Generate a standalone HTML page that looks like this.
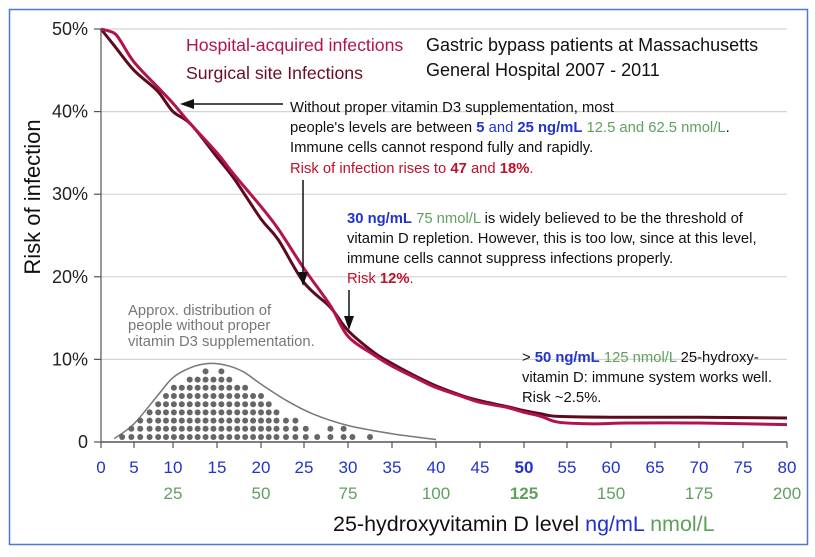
<!DOCTYPE html>
<html><head><meta charset="utf-8">
<style>
html,body{margin:0;padding:0;background:#fff;}
svg{display:block;font-family:"Liberation Sans",sans-serif;}
</style></head>
<body>
<svg id="chart" width="815" height="557" viewBox="0 0 815 557" xmlns="http://www.w3.org/2000/svg">
<rect x="9.5" y="9.5" width="798" height="535" fill="#fff" stroke="#4a78d8" stroke-width="1.5"/>
<g id="grid"></g>
<g id="dist"></g>
<g id="lines"></g>
<g id="axes"></g>
<g font-size="17.7">
 <text x="186" y="51" fill="#b3124f">Hospital-acquired infections</text>
 <text x="186" y="79" fill="#6a0e22">Surgical site Infections</text>
</g>
<g font-size="18" fill="#111">
 <text x="426" y="51">Gastric bypass patients at Massachusetts</text>
 <text x="426" y="76">General Hospital 2007 - 2011</text>
</g>
<g font-size="14.8" fill="#111">
 <text x="290" y="112">Without proper vitamin D3 supplementation, most</text>
 <text x="290" y="132">people's levels are between <tspan fill="#2233cc" font-weight="bold">5</tspan><tspan fill="#2233cc"> and </tspan><tspan fill="#2233cc" font-weight="bold">25 ng/mL</tspan> <tspan fill="#5fa05f">12.5 and 62.5 nmol/L</tspan>.</text>
 <text x="290" y="152">Immune cells cannot respond fully and rapidly.</text>
 <text x="290" y="173" fill="#c0102a">Risk of infection rises to <tspan font-weight="bold">47</tspan> and <tspan font-weight="bold">18%</tspan>.</text>
</g>
<g font-size="14.8" fill="#111">
 <text x="347" y="223"><tspan fill="#2233cc" font-weight="bold">30 ng/mL</tspan> <tspan fill="#5fa05f">75 nmol/L</tspan> is widely believed to be the threshold of</text>
 <text x="347" y="243">vitamin D repletion.  However, this is too low, since at this level,</text>
 <text x="347" y="263">immune cells cannot suppress infections properly.</text>
 <text x="347" y="283" fill="#c0102a">Risk <tspan font-weight="bold">12%</tspan>.</text>
</g>
<g font-size="14.8" fill="#111">
 <text x="522" y="362">&gt; <tspan fill="#2233cc" font-weight="bold">50 ng/mL</tspan> <tspan fill="#5fa05f">125 nmol/L</tspan> 25-hydroxy-</text>
 <text x="522" y="382">vitamin D: immune system works well.</text>
 <text x="522" y="402">Risk ~2.5%.</text>
</g>
<g font-size="14.8" fill="#777">
 <text x="128" y="315">Approx. distribution of</text>
 <text x="128" y="330">people without proper</text>
 <text x="128" y="346">vitamin D3 supplementation.</text>
</g>
<g stroke="#111" stroke-width="1.5" fill="#111">
 <line x1="283" y1="104" x2="192" y2="104"/><polygon points="180,104 194,99 194,109" stroke="none"/>
 <line x1="303" y1="180" x2="303" y2="274"/><polygon points="303,286 298,272 308,272" stroke="none"/>
 <line x1="349" y1="290" x2="349" y2="318"/><polygon points="349,330 344,316 354,316" stroke="none"/>
</g>
<text transform="translate(40,197) rotate(-90)" text-anchor="middle" font-size="22" fill="#111">Risk of infection</text>
<text x="333" y="531" font-size="21.5" fill="#111">25-hydroxyvitamin D level <tspan fill="#2233cc">ng/mL</tspan> <tspan fill="#5fa05f">nmol/L</tspan></text>
</svg>
<script>
const xTicks=[0,5,10,15,20,25,30,35,40,45,50,55,60,65,70,75,80];
const xTickPx=[101,134,173,217,261,304,348,392,436,480,524,567,611,655,699,743,787];
const nmolTicks=["25","50","75","100","125","150","175","200"];
const nmolAt=[10,20,30,40,50,60,70,80];
const yTicks=[0,10,20,30,40,50];
const yTickLabels=["0","10%","20%","30%","40%","50%"];
const hospX=[0,2,3,5,8,10,12,15,17,20,22,25,28,30,33,35,38,40,43,45,48,50,52,54,58,62,70,80];
const hospY=[50,49.5,48.5,46,43,41,38.5,35,32.3,28.5,25.8,21,16.5,12.8,10.5,9.2,7.6,6.6,5.5,4.8,4.2,3.6,3.1,2.4,2.2,2.3,2.3,2.1];
const surgX=[0,2,5,8,10,12,15,17,20,22,25,28,30,33,35,38,40,43,45,48,50,52,54,60,70,80];
const surgY=[50,48,45,42.5,40,38.5,34.5,31.8,27,24.5,19.3,16.3,13.5,10.8,9.5,7.8,6.8,5.6,5,4.3,3.8,3.4,3.1,3,3,2.9];
const distX=[2,5,8,10,12,14,16,18,20,23,26,30,35,40];
const distY=[0.4,2.2,5.6,7.8,9,9.5,9.3,8.5,7,5,3.4,2,1,0.3];
const dotX=[3.2,4.6,5.8,7.0,8.1,9.1,10.1,11.0,11.9,12.8,13.7,14.6,15.5,16.4,17.3,18.2,19.1,20.0,20.9,21.8,22.9,24.0,25.2,26.5,28,29.5,30.5,32.5];
const dotCount=[1,2,3,4,5,6,7,7,8,8,9,8,9,8,7,7,6,6,5,4,3,3,2,1,2,2,1,1];
const NS="http://www.w3.org/2000/svg";
function X(v){for(let i=0;i<xTicks.length-1;i++){if(v<=xTicks[i+1]){const t=(v-xTicks[i])/(xTicks[i+1]-xTicks[i]);return xTickPx[i]+t*(xTickPx[i+1]-xTickPx[i]);}}return xTickPx[xTickPx.length-1];}
function Y(v){return 442-v*8.26;}
function mk(tag,attrs,parent){const e=document.createElementNS(NS,tag);for(const k in attrs)e.setAttribute(k,attrs[k]);parent.appendChild(e);return e;}
function smooth(xs,ys){const p=xs.map((x,i)=>[X(x),Y(ys[i])]);let d="M"+p[0][0]+","+p[0][1];for(let i=0;i<p.length-1;i++){const p0=p[i-1]||p[i],p1=p[i],p2=p[i+1],p3=p[i+2]||p2;d+=" C"+(p1[0]+(p2[0]-p0[0])/6)+","+(p1[1]+(p2[1]-p0[1])/6)+" "+(p2[0]-(p3[0]-p1[0])/6)+","+(p2[1]-(p3[1]-p1[1])/6)+" "+p2[0]+","+p2[1];}return d;}
const grid=document.getElementById('grid'),axes=document.getElementById('axes'),lines=document.getElementById('lines'),dist=document.getElementById('dist');
yTicks.forEach((v,i)=>{
 if(v>0){const g=mk('line',{x1:101,x2:787,y1:Y(v),y2:Y(v),stroke:'#d4d4d4','stroke-width':1.2},grid);
 
 }
 const tk=mk('line',{x1:94,x2:101,y1:Y(v),y2:Y(v),stroke:'#555','stroke-width':1.2},axes);
 
 
 const t=mk('text',{x:88,y:Y(v)+6,'text-anchor':'end','font-size':18,fill:'#222'},axes);t.textContent=yTickLabels[i];
 
 
});
const ya=mk('line',{x1:101,x2:101,y1:Y(50),y2:442,stroke:'#555','stroke-width':1.2},axes);


const xa=mk('line',{x1:101,x2:787,y1:442,y2:442,stroke:'#555','stroke-width':1.5},axes);


xTicks.forEach(v=>{
 const tk=mk('line',{x1:X(v),x2:X(v),y1:442,y2:448,stroke:'#555','stroke-width':1.2},axes);
 
 
 const t=mk('text',{x:X(v),y:473,'text-anchor':'middle','font-size':17,fill:'#2233cc','font-weight':v===50?'bold':'normal'},axes);t.textContent=v;
 
 
});
nmolAt.forEach((v,i)=>{
 const t=mk('text',{x:X(v),y:499,'text-anchor':'middle','font-size':17,fill:'#5fa05f','font-weight':v===50?'bold':'normal'},axes);t.textContent=nmolTicks[i];
 
 
});
const dc=mk('path',{d:smooth(distX,distY),fill:'none',stroke:'#777','stroke-width':1.5},dist);


dotX.forEach((x,i)=>{for(let r=0;r<dotCount[i];r++){
 const c=mk('circle',{cx:X(x),cy:437-r*8.2,r:3,fill:'#666'},dist);
 
 
}});
const s=mk('path',{d:smooth(surgX,surgY),fill:'none',stroke:'#5e0a1d','stroke-width':3},lines);


const h=mk('path',{d:smooth(hospX,hospY),fill:'none',stroke:'#b3124f','stroke-width':3},lines);


</script>
</body></html>
